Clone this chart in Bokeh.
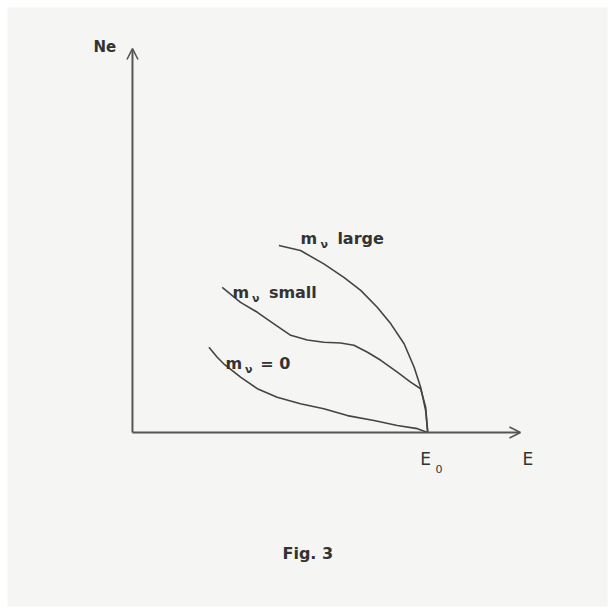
from bokeh.plotting import figure
from bokeh.models import Arrow, OpenHead, Range1d
from bokeh.core.properties import value
from bokeh.embed import file_html
from bokeh.resources import INLINE

# Energy in units of the endpoint E0; Ne in arbitrary units (axis top = 1)
E_large = [0.496, 0.569, 0.648, 0.716, 0.773, 0.829, 0.875, 0.920, 0.954, 0.976, 0.993, 1.0]
N_large = [0.487, 0.474, 0.439, 0.404, 0.370, 0.326, 0.283, 0.231, 0.170, 0.118, 0.057, 0.0]

E_small = [0.304, 0.366, 0.423, 0.479, 0.536, 0.592, 0.648, 0.705, 0.750, 0.796, 0.841,
           0.897, 0.942, 0.976, 0.993, 1.0]
N_small = [0.378, 0.339, 0.313, 0.283, 0.253, 0.241, 0.235, 0.233, 0.227, 0.209, 0.188,
           0.157, 0.131, 0.114, 0.066, 0.0]

E_zero = [0.259, 0.287, 0.309, 0.366, 0.423, 0.490, 0.569, 0.648, 0.728, 0.818, 0.897, 0.965, 1.0]
N_zero = [0.222, 0.196, 0.179, 0.144, 0.114, 0.092, 0.075, 0.062, 0.044, 0.031, 0.018, 0.010, 0.0]

E_AXIS_END = 1.314
N_AXIS_END = 1.0

FONT = value("DejaVu Sans")
INK = "#333333"

p = figure(width=615, height=614, output_backend="svg", toolbar_location=None,
           x_range=Range1d(-0.447, 1.636), y_range=Range1d(-0.474, 1.125),
           min_border=0)
p.axis.visible = False
p.grid.visible = False
p.background_fill_color = "#f5f5f3"
p.border_fill_color = "white"
p.outline_line_color = "white"
p.outline_line_width = 14

# axes with open arrowheads
p.add_layout(Arrow(x_start=0, y_start=0, x_end=E_AXIS_END, y_end=0,
                   line_color="#555555", line_width=2,
                   end=OpenHead(size=11, line_color="#555555", line_width=1.6)))
p.add_layout(Arrow(x_start=0, y_start=0, x_end=0, y_end=N_AXIS_END,
                   line_color="#555555", line_width=2,
                   end=OpenHead(size=11, line_color="#555555", line_width=1.6)))

# spectra near the endpoint
for xs, ys in [(E_large, N_large), (E_small, N_small), (E_zero, N_zero)]:
    p.line(xs, ys, line_color="#444444", line_width=1.6, line_join="round")

def label(x, y, s, size, bold=True, color=INK):
    p.text(x=[x], y=[y], text=[s], text_font=FONT, text_font_size=f"{size}px",
           text_font_style="bold" if bold else "normal", text_color=color,
           text_baseline="alphabetic", text_align="left")

label(-0.132, 1.003, "Ne", 15)
label(1.321, -0.068, "E", 17, bold=False)
label(0.975, -0.068, "E", 17, bold=False)
label(1.026, -0.094, "0", 11, bold=False)

# curve labels: m with subscript nu
label(0.569, 0.505, "m", 16)
label(0.637, 0.490, "ν", 11)
label(0.694, 0.505, "large", 16)

label(0.339, 0.365, "m", 16)
label(0.405, 0.350, "ν", 11)
label(0.462, 0.365, "small", 16)

label(0.315, 0.179, "m", 16)
label(0.381, 0.164, "ν", 11)
label(0.433, 0.179, "= 0", 16)

label(0.508, -0.315, "Fig. 3", 16)

open("out.html", "w").write(file_html(p, INLINE))
